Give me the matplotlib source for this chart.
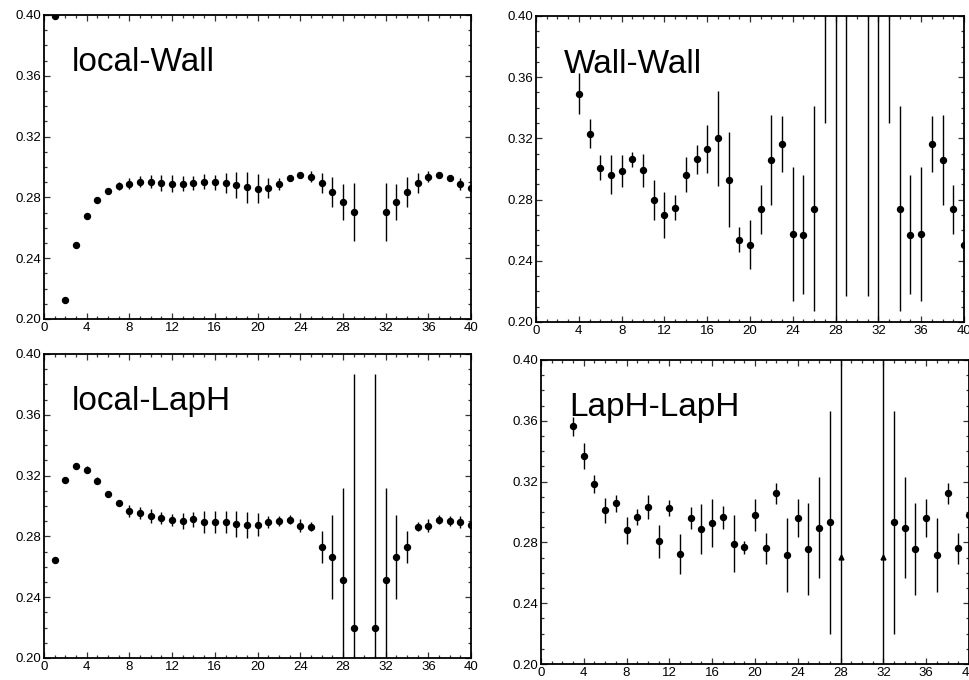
import matplotlib.pyplot as plt
from matplotlib.ticker import MultipleLocator
import numpy as np

plt.rcParams['font.family'] = ['Liberation Sans', 'DejaVu Sans']

# local-Wall
t_lw = [1, 2, 3, 4, 5, 6, 7, 8, 9, 10, 11, 12, 13, 14, 15, 16, 17, 18, 19, 20,
        21, 22, 23, 24, 25, 26, 27, 28, 29, 32, 33, 34, 35, 36, 37, 38, 39, 40]
y_lw = [0.3995, 0.2127, 0.2490, 0.2678, 0.2783, 0.2840, 0.2873, 0.2890, 0.2904, 0.2904,
        0.2895, 0.2890, 0.2890, 0.2897, 0.2904, 0.2900, 0.2893, 0.2882, 0.2867, 0.2858,
        0.2864, 0.2888, 0.2926, 0.2945, 0.2937, 0.2897, 0.2836, 0.2770, 0.2705,
        0.2705, 0.2770, 0.2836, 0.2897, 0.2937, 0.2945, 0.2926, 0.2888, 0.2864]
e_lw = [0.0010, 0.0015, 0.0015, 0.0015, 0.0020, 0.0020, 0.0025, 0.0035, 0.0037, 0.0040,
        0.0050, 0.0055, 0.0050, 0.0046, 0.0047, 0.0050, 0.0066, 0.0087, 0.0101, 0.0096,
        0.0065, 0.0040, 0.0020, 0.0020, 0.0036, 0.0066, 0.0100, 0.0120, 0.0190,
        0.0190, 0.0120, 0.0100, 0.0066, 0.0036, 0.0020, 0.0020, 0.0040, 0.0065]

# Wall-Wall
t_ww = [4, 5, 6, 7, 8, 9, 10, 11, 12, 13, 14, 15, 16, 17, 18, 19, 20, 21, 22, 23,
        24, 25, 26, 27, 28, 29, 31, 32, 33, 34, 35, 36, 37, 38, 39, 40]
y_ww = [0.3493, 0.3231, 0.3009, 0.2963, 0.2987, 0.3063, 0.2991, 0.2797, 0.2701, 0.2747,
        0.2963, 0.3063, 0.3129, 0.3201, 0.2930, 0.2539, 0.2504, 0.2736, 0.3059, 0.3162,
        0.2576, 0.2570, 0.2740, 0.4500, 0.1500, 0.5000, 0.5000, 0.1500, 0.4500, 0.2740,
        0.2570, 0.2576, 0.3162, 0.3059, 0.2736, 0.2504]
e_ww = [0.0132, 0.0095, 0.0084, 0.0129, 0.0106, 0.0050, 0.0107, 0.0130, 0.0150, 0.0082,
        0.0115, 0.0094, 0.0156, 0.0310, 0.0310, 0.0080, 0.0160, 0.0160, 0.0297, 0.0183,
        0.0437, 0.0388, 0.0670, 0.1200, 0.4000, 0.2830, 0.2830, 0.4000, 0.1200, 0.0670,
        0.0388, 0.0437, 0.0183, 0.0297, 0.0160, 0.0160]

# local-LapH
t_ll = [1, 2, 3, 4, 5, 6, 7, 8, 9, 10, 11, 12, 13, 14, 15, 16, 17, 18, 19, 20,
        21, 22, 23, 24, 25, 26, 27, 28, 29, 31, 32, 33, 34, 35, 36, 37, 38, 39, 40]
y_ll = [0.2647, 0.3169, 0.3265, 0.3239, 0.3167, 0.3077, 0.3018, 0.2965, 0.2952, 0.2934,
        0.2919, 0.2908, 0.2901, 0.2912, 0.2893, 0.2895, 0.2895, 0.2879, 0.2873, 0.2877,
        0.2895, 0.2901, 0.2910, 0.2871, 0.2864, 0.2730, 0.2664, 0.2515, 0.2200,
        0.2200, 0.2515, 0.2664, 0.2730, 0.2864, 0.2871, 0.2910, 0.2901, 0.2895, 0.2877]
e_ll = [0.0015, 0.0020, 0.0020, 0.0022, 0.0022, 0.0020, 0.0020, 0.0040, 0.0040, 0.0045,
        0.0040, 0.0040, 0.0050, 0.0050, 0.0073, 0.0075, 0.0075, 0.0085, 0.0085, 0.0075,
        0.0040, 0.0030, 0.0030, 0.0045, 0.0030, 0.0104, 0.0276, 0.0603, 0.1670,
        0.1670, 0.0603, 0.0276, 0.0104, 0.0030, 0.0045, 0.0030, 0.0030, 0.0040, 0.0075]

# LapH-LapH
t_hh = [3, 4, 5, 6, 7, 8, 9, 10, 11, 12, 13, 14, 15, 16, 17, 18, 19, 20,
        21, 22, 23, 24, 25, 26, 27, 33, 34, 35, 36, 37, 38, 39, 40]
y_hh = [0.3564, 0.3367, 0.3183, 0.3010, 0.3056, 0.2881, 0.2970, 0.3034, 0.2806, 0.3025,
        0.2725, 0.2962, 0.2889, 0.2929, 0.2964, 0.2791, 0.2767, 0.2979, 0.2760, 0.3122,
        0.2716, 0.2959, 0.2758, 0.2898, 0.2931, 0.2931, 0.2898, 0.2758, 0.2959, 0.2716,
        0.3122, 0.2760, 0.2979]
e_hh = [0.0062, 0.0085, 0.0060, 0.0082, 0.0055, 0.0089, 0.0053, 0.0081, 0.0110, 0.0052,
        0.0130, 0.0073, 0.0162, 0.0158, 0.0077, 0.0188, 0.0043, 0.0106, 0.0102, 0.0070,
        0.0244, 0.0126, 0.0304, 0.0330, 0.0734, 0.0734, 0.0330, 0.0304, 0.0126, 0.0244,
        0.0070, 0.0102, 0.0106]
t_hh_tri = [28, 32]
y_hh_tri = [0.2703, 0.2703]
e_hh_tri = [0.5, 0.5]

panels = [
    ([0.0454, 0.5309, 0.4402, 0.4471], 'local-Wall', t_lw, y_lw, e_lw),
    ([0.5526, 0.5265, 0.4412, 0.4500], 'Wall-Wall', t_ww, y_ww, e_ww),
    ([0.0454, 0.0324, 0.4402, 0.4471], 'local-LapH', t_ll, y_ll, e_ll),
    ([0.5577, 0.0235, 0.4412, 0.4471], 'LapH-LapH', t_hh, y_hh, e_hh),
]

fig = plt.figure(figsize=(9.7, 6.8), dpi=100)
axes = []
for rect, name, t, y, e in panels:
    ax = fig.add_axes(rect)
    ax.errorbar(t, y, yerr=e, fmt='o', color='black', ms=4.3,
                elinewidth=1.0, capsize=0)
    ax.set_xlim(0, 40)
    ax.set_ylim(0.20, 0.40)
    ax.xaxis.set_major_locator(MultipleLocator(4))
    ax.xaxis.set_minor_locator(MultipleLocator(1))
    ax.yaxis.set_major_locator(MultipleLocator(0.04))
    ax.yaxis.set_minor_locator(MultipleLocator(0.01))
    ax.yaxis.set_major_formatter(plt.FormatStrFormatter('%.2f'))
    ax.tick_params(which='both', direction='in', top=True, right=True,
                   labelsize=9.5, width=0.9, color='#333333')
    ax.tick_params(which='major', length=4, pad=2)
    ax.tick_params(which='minor', length=2.2)
    for s in ax.spines.values():
        s.set_linewidth(1.3)
    ax.text(2.6, 0.363, name, fontsize=24, va='baseline', ha='left')
    axes.append(ax)

axes[3].errorbar(t_hh_tri, y_hh_tri, yerr=e_hh_tri, fmt='^', color='black',
                 ms=3.5, elinewidth=1.0, capsize=0)

fig.savefig('out.png', dpi=100)
